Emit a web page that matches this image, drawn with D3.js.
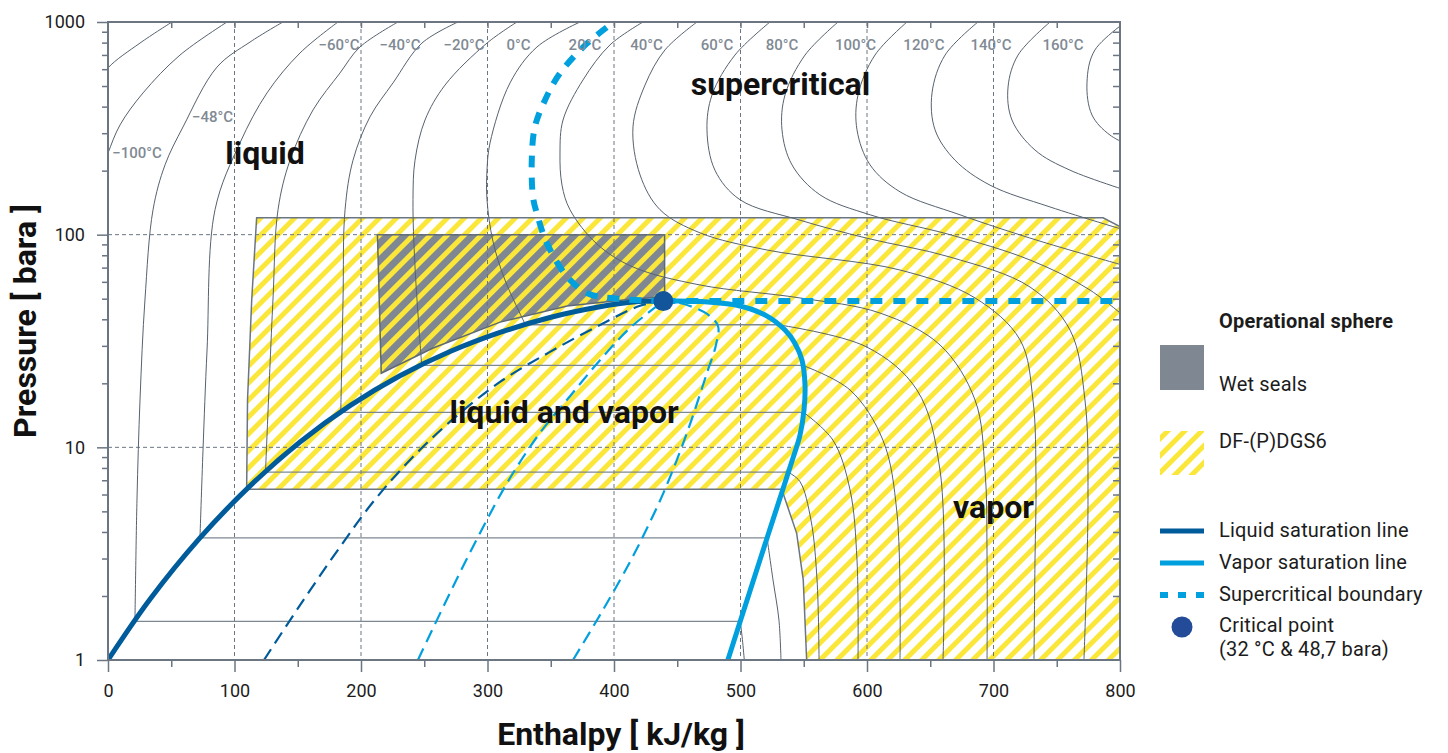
<!DOCTYPE html>
<html>
<head>
<meta charset="utf-8">
<title>CO2 pressure-enthalpy diagram</title>
<script src="https://cdn.jsdelivr.net/npm/d3@7/dist/d3.min.js"></script>
<style>
  body { margin: 0; background: #fff; }
  svg text { font-family: Roboto, "Noto Sans", sans-serif; }
</style>
</head>
<body>
<svg id="chart" width="1448" height="753"></svg>
<script>
// ---- data (enthalpy kJ/kg, pressure bara) ----

const hTicks = [0, 100, 200, 300, 400, 500, 600, 700, 800];
const pTicks = [1, 10, 100, 1000];
const hGrid = [100, 200, 300, 400, 500, 600, 700];
const pGrid = [10, 100];

const criticalPoint = [439, 48.7];

const liquidSat = [[0, 1], [33.2, 1.93], [72.7, 3.75], [112.3, 6.59], [151.8, 10.6], [191.3, 15.7], [230.8, 21.7],
    [270.4, 28.2], [309.9, 34.7], [349.4, 40.8], [388.9, 45.8], [415, 48.2], [439, 48.7]];

const vaporSat = [[439, 48.7], [468, 48.5], [499.6, 46.2], [521, 41.4], [535.2, 35.6], [543, 30.9], [548.6, 25.7],
    [551, 19.6], [550.2, 15.0], [547, 11.4], [541.5, 8.91], [532.8, 6.17], [521, 3.75], [507.5, 2.11], [490, 1]];

// constant quality lines inside the dome
const qualityDark = [[123.3, 1], [151.8, 1.81], [183.4, 3.40], [209.5, 5.53], [238.7, 8.72], [270.4, 13.2],
    [309.9, 20.3], [349.4, 28.1], [388.9, 37.6], [420.6, 46.3], [439, 48.7]];
const qualityMid = [[245, 1], [270.4, 2.07], [294.1, 3.96], [317.8, 7.17], [341.5, 11.7], [365.2, 17.4],
    [388.9, 25.7], [412.6, 36.4], [439, 48.7]];
const qualityRight = [[367.6, 1], [391.3, 1.72], [413.4, 2.95], [429.2, 4.55], [441.1, 6.51], [457.7, 11.7],
    [473.5, 22.4], [480.6, 30.3], [482.2, 37.2], [473.5, 42.4], [452.2, 47.7], [439, 48.7]];

const superBoundary = [[439, 48.7], [399, 50.2], [379, 53], [363, 63.4], [347, 91], [339, 126], [336, 150],
    [335, 224], [337.5, 322], [345.5, 430], [357.3, 574], [378.7, 793], [400, 1000]];
const superBoundaryFlat = [[439, 48.7], [800, 48.7]];

// operational spheres
const dgsArea = [[117.5, 120], [786.6, 120], [800, 109], [800, 1], [552.3, 1], [549.6, 2.38], [544.4, 3.94],
    [532.6, 6.35], [109.6, 6.35], [110.3, 16.7], [113.6, 49.3]];
const wetSealArea = [[213, 100], [440, 100], [440, 51], [415, 49.8], [363, 46.2], [310, 38.8], [257, 29.3],
    [216, 22.3]];

// isotherms
const coldIsoA = [[-10, 489], [0, 608], [25.3, 796], [50.6, 1000]];
const coldIsoB = [[-6.3, 191], [0, 242], [9.5, 328], [27.7, 464], [56.9, 699], [94.1, 1000]];

const satPressures = [1.52, 3.75, 7.64, 14.6, 24.3, 37.7];
const liquidBranches = [
    [[21.3, 1.52], [22.9, 5.65], [25.3, 16.7], [29.2, 49.3], [35.6, 131], [45.1, 213], [59.3, 321], [86.2, 614], [112.3, 805], [138.3, 1000]],
    [[72.7, 3.75], [75.1, 9.7], [78.3, 28.7], [84.6, 131], [104.3, 270], [125.7, 464], [151.8, 715], [181.8, 1000]],
    [[124.5, 7.64], [130.4, 49.3], [134.4, 131], [143.9, 224], [162.1, 386], [183.4, 576], [199.2, 763], [229.2, 1000]],
    [[184, 14.6], [185.8, 49.3], [187.4, 131], [193.7, 224], [207.1, 358], [225.3, 517], [248.2, 796], [276.7, 1000]],
    [[248, 24.3], [242.7, 70.5], [241.1, 146], [242.7, 224], [250.6, 346], [266.4, 505], [299.6, 796], [323.3, 1000]],
    [[330, 37.7], [313.8, 61.2], [304.3, 93.2], [299.6, 146], [299.6, 201], [302, 270], [317.8, 517], [339.1, 763], [373.1, 1000]]
];
const vaporBranches = [
    [[499.8, 1.52], [501.5, 1.25], [503, 1]],
    [[521, 3.75], [525.7, 2.38], [530.4, 1.54], [532, 1]],
    [[537.8, 7.64], [547, 6.9], [555.7, 4.55], [560.5, 2.38], [562.1, 1]],
    [[549.9, 14.6], [573.1, 10.8], [586.6, 6.3], [592.1, 2.95], [592.9, 1]],
    [[549.1, 24.3], [586.6, 18.6], [612.6, 10.8], [623.7, 4.91], [626.1, 1]],
    [[529.8, 37.7], [600, 29.6], [639.5, 18.6], [657.7, 7.82], [660.1, 1]]
];
const superIsotherms = [
    [[422.9, 1000], [396.8, 780], [375.5, 534], [359.7, 346], [357.3, 242], [358.9, 171], [365.2, 131], [386.6, 90.3],
        [415, 70.5], [468, 58], [547, 50.4], [610.3, 42.8], [657.7, 30.3], [685.4, 16.7], [693.3, 7.82], [694.9, 2.95], [694.9, 1]],
    [[465.6, 1000], [440.3, 739], [424.5, 505], [415, 321], [420.6, 191], [436.4, 131], [468, 102], [521, 84.7],
        [626.1, 68.2], [685.4, 50.4], [721, 32], [731.2, 16.7], [733.6, 7.02], [732.8, 2.95], [732, 1]],
    [[523.3, 1000], [495.6, 699], [477.5, 454], [473.5, 311], [479.8, 201], [499.6, 146], [547, 117], [600, 96.2],
        [665.6, 78.5], [728.9, 56.7], [760.5, 35.6], [772.3, 16.7], [774.7, 5.65], [771.5, 1]],
    [[577.1, 1000], [551, 699], [535.2, 454], [532.8, 311], [540.7, 213], [562.8, 154], [602.4, 124], [665.6, 100],
        [728.9, 76], [776.3, 54.9], [815.8, 35.6]],
    [[631.6, 1000], [606.3, 699], [592.9, 454], [592.1, 311], [602.4, 213], [626.1, 159], [673.5, 124], [736.8, 93.2], [815.8, 68.2]],
    [[687.7, 1000], [661.7, 699], [651.4, 464], [653.8, 311], [669.6, 224], [697.2, 171], [744.7, 135], [815.8, 100]],
    [[744.7, 1000], [719.4, 699], [711.5, 495], [714.6, 346], [732.8, 250], [760.5, 201], [815.8, 154]],
    [[814, 1100], [780.2, 739], [773.9, 517], [777.9, 365], [792.1, 294], [815.8, 250]]
];

// temperature labels: [h, p, text]
const tempLabels = [
    [22.9, 229, '−100°C'], [82.6, 339, '−48°C'],
    [182.6, 739, '−60°C'], [230.8, 739, '−40°C'], [281.4, 739, '−20°C'], [324.5, 739, '0°C'],
    [377, 739, '20°C'], [425.7, 739, '40°C'], [481.4, 739, '60°C'], [532.8, 739, '80°C'],
    [591, 739, '100°C'], [645, 739, '120°C'], [698, 739, '140°C'], [755, 739, '160°C']
];
const regionLabels = [
    [124.1, 215, 'liquid'], [531.6, 454, 'supercritical'], [360.5, 13.0, 'liquid and vapor'], [700, 4.65, 'vapor']
];

// ---- drawing ----

const AXIS = '#6b7682', ISO = '#56626e', DARK = '#005b9b', LIGHT = '#00a0df', YELLOW = '#fbe63a';

const svg = d3.select('#chart');
const x = d3.scaleLinear().domain([0, 800]).range([108, 1120]);
const y = d3.scaleLog().domain([1, 1000]).range([660, 22]);

const defs = svg.append('defs');
defs.append('clipPath').attr('id', 'plot')
    .append('rect').attr('x', x(0)).attr('y', y(1000)).attr('width', x(800) - x(0)).attr('height', y(1) - y(1000));
defs.append('pattern').attr('id', 'hatch')
    .attr('patternUnits', 'userSpaceOnUse').attr('width', 12).attr('height', 12)
    .attr('patternTransform', 'rotate(45)')
    .append('rect').attr('width', 5).attr('height', 12).attr('fill', YELLOW);

const curve = d3.line().x(d => x(d[0])).y(d => y(d[1])).curve(d3.curveCatmullRom.alpha(0.5));
const poly = d3.line().x(d => x(d[0])).y(d => y(d[1]));

const plot = svg.append('g').attr('clip-path', 'url(#plot)');

// wet seals (grey) below the hatch
plot.append('path').attr('d', poly(wetSealArea) + 'Z').attr('fill', '#7f8892');
plot.append('path').attr('d', poly(dgsArea) + 'Z')
    .attr('fill', 'url(#hatch)').attr('stroke', AXIS).attr('stroke-width', 1.5);
plot.append('path').attr('d', poly(wetSealArea) + 'Z')
    .attr('fill', 'none').attr('stroke', '#5e6974').attr('stroke-width', 1.5);

// grid
plot.append('g').selectAll('line').data(hGrid).join('line')
    .attr('x1', d => x(d)).attr('x2', d => x(d)).attr('y1', y(1000)).attr('y2', y(1))
    .attr('stroke', AXIS).attr('stroke-width', 1).attr('stroke-dasharray', '4 3');
plot.append('g').selectAll('line').data(pGrid).join('line')
    .attr('x1', x(0)).attr('x2', x(800)).attr('y1', d => y(d)).attr('y2', d => y(d))
    .attr('stroke', AXIS).attr('stroke-width', 1).attr('stroke-dasharray', '4 3');

// isotherms
const iso = plot.append('g').attr('fill', 'none').attr('stroke', ISO).attr('stroke-width', 1);
iso.selectAll('path.cold').data([coldIsoA, coldIsoB]).join('path').attr('class', 'cold').attr('d', curve);
iso.selectAll('path.liq').data(liquidBranches).join('path').attr('class', 'liq').attr('d', curve);
iso.selectAll('path.vap').data(vaporBranches).join('path').attr('class', 'vap').attr('d', curve);
iso.selectAll('path.sup').data(superIsotherms).join('path').attr('class', 'sup').attr('d', curve);
iso.selectAll('line.dome').data(satPressures).join('line').attr('class', 'dome')
    .attr('x1', (d, i) => x(liquidBranches[i][0][0])).attr('x2', (d, i) => x(vaporBranches[i][0][0]))
    .attr('y1', d => y(d)).attr('y2', d => y(d))
    .attr('stroke', '#7d8892').attr('stroke-width', 1.3);

// quality lines
plot.append('path').attr('d', curve(qualityDark)).attr('fill', 'none')
    .attr('stroke', DARK).attr('stroke-width', 2.2).attr('stroke-dasharray', '13 7');
plot.append('path').attr('d', curve(qualityMid)).attr('fill', 'none')
    .attr('stroke', LIGHT).attr('stroke-width', 2.2).attr('stroke-dasharray', '13 7');
plot.append('path').attr('d', curve(qualityRight)).attr('fill', 'none')
    .attr('stroke', LIGHT).attr('stroke-width', 2.2).attr('stroke-dasharray', '13 7');

// saturation lines
plot.append('path').attr('d', curve(liquidSat)).attr('fill', 'none').attr('stroke', DARK).attr('stroke-width', 5);
plot.append('path').attr('d', curve(vaporSat)).attr('fill', 'none').attr('stroke', LIGHT).attr('stroke-width', 5);

// supercritical boundary
plot.append('path').attr('d', curve(superBoundary)).attr('fill', 'none')
    .attr('stroke', LIGHT).attr('stroke-width', 6).attr('stroke-dasharray', '12 10');
plot.append('path').attr('d', poly(superBoundaryFlat)).attr('fill', 'none')
    .attr('stroke', LIGHT).attr('stroke-width', 6).attr('stroke-dasharray', '12 11');

plot.append('circle').attr('cx', x(criticalPoint[0])).attr('cy', y(criticalPoint[1])).attr('r', 10)
    .attr('fill', '#13559a');

// frame and axes
svg.append('rect').attr('x', x(0)).attr('y', y(1000)).attr('width', x(800) - x(0)).attr('height', y(1) - y(1000))
    .attr('fill', 'none').attr('stroke', AXIS).attr('stroke-width', 2);

function styleAxis(g) {
    g.select('.domain').remove();
    g.selectAll('.tick line').attr('stroke', AXIS).attr('stroke-width', 1.5);
    g.selectAll('.tick text').attr('fill', '#1c1c1c').attr('font-size', 18).attr('font-family', 'Roboto, sans-serif');
}

const minorP = [];
[1, 10, 100].forEach(b => d3.range(2, 10).forEach(k => minorP.push(b * k)));

svg.append('g').attr('transform', `translate(0,${y(1)})`)
    .call(d3.axisBottom(x).tickValues(hTicks).tickSize(12).tickPadding(12).tickFormat(d3.format('d')))
    .call(styleAxis);
svg.append('g').attr('transform', `translate(0,${y(1)})`)
    .call(d3.axisBottom(x).tickValues(d3.range(50, 800, 100)).tickSize(7).tickFormat(''))
    .call(styleAxis);
svg.append('g').attr('transform', `translate(0,${y(1000)})`)
    .call(d3.axisTop(x).tickValues(d3.range(50, 800, 50)).tickSize(-6).tickFormat(''))
    .call(styleAxis);
svg.append('g').attr('transform', `translate(${x(0)},0)`)
    .call(d3.axisLeft(y).tickValues(pTicks).tickSize(11).tickPadding(12).tickFormat(d3.format('d')))
    .call(styleAxis);
svg.append('g').attr('transform', `translate(${x(0)},0)`)
    .call(d3.axisLeft(y).tickValues(minorP).tickSize(6).tickFormat(''))
    .call(styleAxis);
svg.append('g').attr('transform', `translate(${x(800)},0)`)
    .call(d3.axisRight(y).tickValues(minorP).tickSize(-7).tickFormat(''))
    .call(styleAxis);

// axis titles
svg.append('text').attr('x', x(400) + 7).attr('y', 745).attr('text-anchor', 'middle')
    .attr('font-size', 32).attr('font-weight', 700).attr('fill', '#111').text('Enthalpy [ kJ/kg ]');
svg.append('text').attr('transform', 'translate(36,321) rotate(-90)').attr('text-anchor', 'middle')
    .attr('font-size', 32).attr('font-weight', 700).attr('fill', '#111')
    .text('Pressure [ bara ]');

// labels
svg.append('g').selectAll('text').data(tempLabels).join('text')
    .attr('x', d => x(d[0])).attr('y', d => y(d[1])).attr('text-anchor', 'middle')
    .attr('font-size', 15).attr('font-weight', 500).attr('fill', '#7f8a94').text(d => d[2]);
svg.append('g').selectAll('text').data(regionLabels).join('text')
    .attr('x', d => x(d[0])).attr('y', d => y(d[1])).attr('text-anchor', 'middle')
    .attr('font-size', 32).attr('font-weight', 700).attr('fill', '#111').text(d => d[2]);

// legend
const lg = svg.append('g').attr('font-size', 20).attr('fill', '#1c1c1c').attr('letter-spacing', 0.2);
lg.append('text').attr('x', 1219).attr('y', 328).attr('font-weight', 700).text('Operational sphere');
lg.append('rect').attr('x', 1160).attr('y', 345).attr('width', 44).attr('height', 45).attr('fill', '#7f8892');
lg.append('text').attr('x', 1219).attr('y', 391).text('Wet seals');
lg.append('rect').attr('x', 1160).attr('y', 431).attr('width', 44).attr('height', 44).attr('fill', 'url(#hatch)');
lg.append('text').attr('x', 1219).attr('y', 448).text('DF-(P)DGS6');
lg.append('line').attr('x1', 1160).attr('x2', 1204).attr('y1', 531).attr('y2', 531).attr('stroke', DARK).attr('stroke-width', 5);
lg.append('text').attr('x', 1219).attr('y', 537).text('Liquid saturation line');
lg.append('line').attr('x1', 1160).attr('x2', 1204).attr('y1', 563).attr('y2', 563).attr('stroke', LIGHT).attr('stroke-width', 5);
lg.append('text').attr('x', 1219).attr('y', 569).text('Vapor saturation line');
lg.append('line').attr('x1', 1160).attr('x2', 1204).attr('y1', 595).attr('y2', 595).attr('stroke', LIGHT).attr('stroke-width', 6)
    .attr('stroke-dasharray', '8 10');
lg.append('text').attr('x', 1219).attr('y', 601).text('Supercritical boundary');
lg.append('circle').attr('cx', 1182).attr('cy', 627).attr('r', 10.5).attr('fill', '#244b97');
lg.append('text').attr('x', 1219).attr('y', 632).text('Critical point');
lg.append('text').attr('x', 1219).attr('y', 656).text('(32 °C & 48,7 bara)');
</script>
</body>
</html>
